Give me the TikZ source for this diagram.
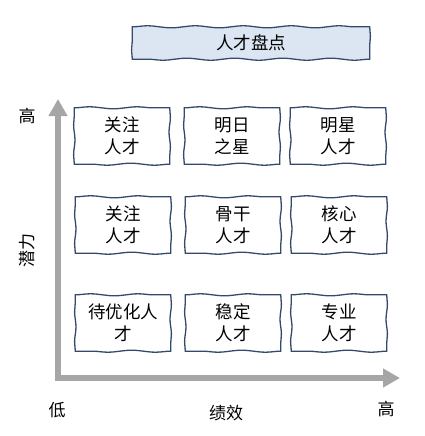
\documentclass[tikz,border=0pt]{standalone}
\usepackage{fontspec}
\setmainfont{Noto Sans CJK SC}
\usetikzlibrary{decorations.pathmorphing,arrows.meta}
\definecolor{boxline}{HTML}{34496B}
\definecolor{titlefill}{HTML}{DCE6F2}
\definecolor{axisgray}{HTML}{A6A6A6}
\tikzset{
  hwave/.style={draw=boxline, line width=1.3pt, line cap=round,
    decorate, decoration={snake, segment length=48pt, amplitude=1pt}},
  vwave/.style={draw=boxline, line width=1.3pt, line cap=round,
    decorate, decoration={snake, segment length=30pt, amplitude=0.7pt}},
  cell/.style={minimum width=95pt, minimum height=56pt,
    align=center, font=\fontsize{17.5}{22}\selectfont, inner sep=0pt},
  axis/.style={draw=axisgray, line width=6pt, -{Triangle[length=17pt,width=18pt]}},
  lbl/.style={font=\fontsize{17}{20}\selectfont, inner sep=0pt}
}
\newcommand\wavybox[1]{%
  \draw[hwave] (#1.north west) -- (#1.north east);
  \draw[vwave] (#1.north east) -- (#1.south east);
  \draw[hwave] (#1.south east) -- (#1.south west);
  \draw[vwave] (#1.south west) -- (#1.north west);
}
\begin{document}
\begin{tikzpicture}[x=1pt,y=-1pt]
\useasboundingbox (0,0) rectangle (424,436);
% title
\node[fill=titlefill, minimum width=237pt, minimum height=32pt, inner sep=0pt,
  font=\fontsize{17.5}{20}\selectfont] (title) at (251,43) {人才盘点};
\wavybox{title}
% axes
\coordinate (origin) at (58,378);
\coordinate (ytip) at (58,99);
\coordinate (xtip) at (400,378);
\draw[axis] ([yshift=-3pt]origin) -- (ytip);
\draw[axis] ([xshift=-3pt]origin) -- (xtip);
% cells
\node[cell] (c11) at (122,136) {关注\\人才};
\node[cell] (c12) at (232,136) {明日\\之星};
\node[cell] (c13) at (338,136) {明星\\人才};
\node[cell] (c21) at (123,225) {关注\\人才};
\node[cell] (c22) at (233,225) {骨干\\人才};
\node[cell] (c23) at (339,225) {核心\\人才};
\node[cell] (c31) at (123,323) {待优化人\\才};
\node[cell] (c32) at (233,323) {稳定\\人才};
\node[cell] (c33) at (339,323) {专业\\人才};
\foreach \c in {c11,c12,c13,c21,c22,c23,c31,c32,c33} {\wavybox{\c}}
% labels
\node[lbl] (yhigh) at (27,116) {高};
\node[lbl, rotate=90] (ylab) at (27,250) {潜力};
\node[lbl] (xlow) at (57,410) {低};
\node[lbl] (xlab) at (226,413) {绩效};
\node[lbl] (xhigh) at (386,409) {高};
\end{tikzpicture}
\end{document}
